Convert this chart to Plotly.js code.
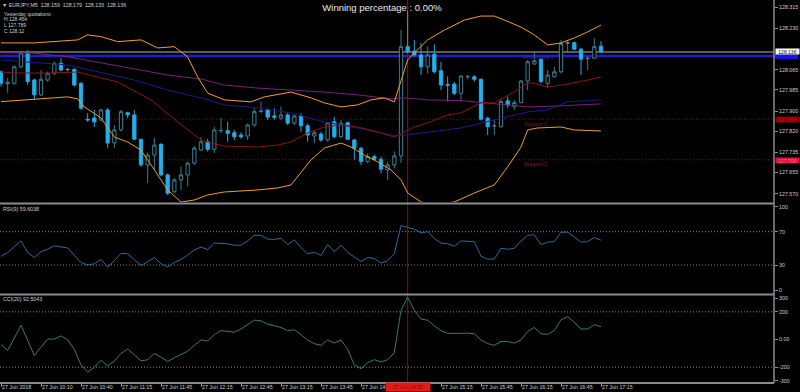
<!DOCTYPE html>
<html><head><meta charset="utf-8">
<script src="https://cdn.plot.ly/plotly-3.0.1.min.js"></script>
<style>html,body{margin:0;padding:0;background:#000;}#chart{width:800px;height:392px;}</style>
</head><body><div id="chart"></div>
<script>
// ---------------- data ----------------
const symbol = "EURJPY,M5";
const lastQuote = ["128.159", "128.179", "128.133", "128.136"];
const yesterday = {H: "128.454", L: "127.789", C: "128.12"};

const open = [128.057,128.009,128.011,128.077,128.131,128.024,127.965,128.024,128.051,128.091,
128.067,128.067,128.011,127.868,127.873,127.865,127.905,127.773,127.825,127.894,
127.885,127.788,127.686,127.725,127.768,127.646,127.579,127.626,127.646,127.693,
127.745,127.778,127.748,127.822,127.822,127.814,127.805,127.801,127.845,127.898,
127.905,127.881,127.872,127.885,127.852,127.881,127.842,127.801,127.809,127.785,
127.858,127.798,127.854,127.785,127.752,127.699,127.719,127.708,127.666,127.686,
127.722,128.157,128.140,128.124,128.077,128.127,128.061,128.006,128.008,127.971,
128.037,128.037,128.027,127.872,127.841,127.838,127.941,127.918,127.934,128.020,
128.088,128.107,128.011,128.037,128.057,128.170,128.173,128.147,128.109,128.111,
128.159];
const high = [128.062,128.032,128.083,128.140,128.143,128.030,128.064,128.058,128.097,128.111,
128.071,128.070,128.015,127.892,127.905,127.910,127.912,127.845,127.905,127.898,
127.905,127.790,127.735,127.793,127.772,127.652,127.633,127.679,127.699,127.760,
127.797,127.790,127.838,127.873,127.858,127.825,127.816,127.851,127.911,127.938,
127.911,127.911,127.918,127.892,127.885,127.892,127.851,127.825,127.818,127.858,
127.878,127.865,127.858,127.790,127.758,127.732,127.725,127.719,127.699,127.740,
128.223,128.300,128.184,128.172,128.157,128.167,128.097,128.038,128.017,128.044,
128.044,128.044,128.030,127.878,127.865,127.945,127.958,127.945,128.024,128.104,
128.137,128.111,128.064,128.077,128.184,128.184,128.177,128.152,128.117,128.192,
128.179];
const low = [127.998,127.973,128.005,128.070,128.005,127.945,127.960,128.017,128.044,128.058,
128.058,127.998,127.905,127.858,127.837,127.858,127.753,127.753,127.819,127.872,
127.785,127.678,127.614,127.666,127.640,127.566,127.573,127.586,127.600,127.686,
127.740,127.740,127.733,127.813,127.778,127.785,127.790,127.785,127.838,127.893,
127.865,127.865,127.865,127.845,127.845,127.818,127.778,127.772,127.778,127.778,
127.792,127.792,127.785,127.706,127.685,127.692,127.705,127.652,127.626,127.672,
127.694,128.130,128.117,128.044,128.050,128.050,127.984,127.938,127.964,127.938,
128.027,128.017,127.863,127.805,127.805,127.835,127.912,127.905,127.931,127.984,
128.084,128.011,127.993,128.034,128.050,128.132,128.144,128.044,128.064,128.108,
128.133];
const close = [128.011,128.015,128.077,128.131,128.018,127.965,128.027,128.051,128.091,128.064,
128.066,128.004,127.912,127.865,127.857,127.905,127.773,127.825,127.898,127.885,
127.788,127.686,127.725,127.765,127.646,127.573,127.626,127.646,127.693,127.753,
127.778,127.748,127.825,127.823,127.812,127.798,127.798,127.845,127.898,127.901,
127.876,127.876,127.885,127.852,127.881,127.842,127.805,127.814,127.785,127.854,
127.798,127.852,127.788,127.752,127.699,127.719,127.708,127.669,127.686,127.722,
128.157,128.137,128.124,128.077,128.124,128.057,128.004,128.003,127.971,128.040,
128.038,128.027,127.868,127.838,127.842,127.938,127.925,127.934,128.020,128.097,
128.101,128.018,128.044,128.057,128.170,128.173,128.147,128.107,128.111,128.157,
128.136];
const bars = open.map((v, i) => i);

const bbUpperX = [0,5,11.5,13,15,17.5,21,23.5,26,28,29.5,31,33.5,37.5,39.5,43.5,46.5,48.5,51,53.5,55.5,57.5,59,60,61,62,64,66.5,69.5,72,74,75.5,78,80,82,84,86,88,90];
const bbUpper = [128.172,128.172,128.184,128.204,128.197,128.177,128.184,128.152,128.157,128.116,128.036,127.972,127.945,127.937,127.957,127.976,127.953,127.933,127.917,127.925,127.945,127.953,127.937,128.024,128.104,128.132,128.184,128.223,128.263,128.279,128.279,128.263,128.235,128.204,128.164,128.172,128.192,128.216,128.243];
const bbLowerX = [0,5,10,11.5,12.5,15,17,19,21,23,25,27,29,31,33.5,38.5,41.5,43.5,45,46.5,48.5,51,52.5,54.5,56.5,58.5,60,61,63,65,68,71,74,76,78,79,80.5,84,86,90];
const bbLower = [127.938,127.949,127.957,127.949,127.917,127.873,127.797,127.777,127.745,127.666,127.586,127.538,127.546,127.566,127.578,127.586,127.594,127.606,127.654,127.706,127.753,127.773,127.757,127.725,127.698,127.666,127.626,127.574,127.538,127.530,127.538,127.574,127.606,127.678,127.757,127.825,127.833,127.837,127.825,127.821];
const bbMidX = [0,3,7.5,11.5,17.5,22.5,26.5,30,31.5,33.5,38.5,41.5,43.5,46,48.5,51,53.5,56.5,59,60.5,62,64,67,69,72,74,77,79,80,82,85,88,90];
const bbMid = [128.056,128.052,128.052,128.056,128.016,127.945,127.857,127.785,127.773,127.761,127.757,127.765,127.777,127.813,127.837,127.845,127.837,127.817,127.797,127.817,127.837,127.853,127.885,127.893,127.933,127.933,127.977,128.012,128.012,127.996,128.008,128.024,128.036];
const maPurpleX = [0,5,10,15,20,25,30,33.5,38.5,43.5,48.5,53.5,58.5,60.5,64,69,72,75,79,84,90];
const maPurple = [128.133,128.131,128.117,128.092,128.068,128.044,128.028,128.004,127.992,127.984,127.976,127.965,127.949,127.953,127.945,127.942,127.934,127.925,127.917,127.921,127.929];
const maBlueX = [0,10,20,25,30,33.5,38.5,43.5,48.5,53.5,58.5,59.5,69,72,79,82,85,90];
const maBlue = [128.104,128.084,128.024,127.984,127.953,127.925,127.913,127.893,127.857,127.833,127.805,127.801,127.833,127.853,127.897,127.905,127.937,127.945];

const rsi = [40.4,45,52,58.9,45,39,46,49,53,51.5, 50.5,41.5,33,30,31.5,36.7,27.5,35,44,43.4,
 36,29.3,34,38.9,31.5,27.8,33,36.7,42,48, 51.5,48.5,56.3,56,55.5,53.7,53.7,58.9,65.6,65.6,
 61.1,60.7,61.9,54.5,60,50.8,43.4,45.2,41.5,54.5, 45.9,53.7,45.2,39.6,34.1,38.9,37.8,32.3,35.2,43.4,
 77.4,75,73,68.5,70,61.9,56.3,55.6,52.6,58.9, 58.5,58,40.4,37.1,37.1,50,48.9,50,58.9,65.6,
 66.3,54.5,57.4,58.1,69.3,69.3,63.7,57.4,58.1,63, 59.6];
const cci = [-37,-78,10,103,-5,-116,-55,3,3,26, -3,-71,-184,-236,-200,-150,-191,-155,-101,-69,
 -110,-155,-146,-101,-128,-159,-132,-110,-85,-42, -3,-10,35,64,60,53,76,110,140,135,
 110,100,87,64,71,35,-5,-30,-42,-3, -26,-3,-71,-184,-211,-168,-146,-162,-146,-94,
 211,306,211,148,139,98,64,45,42,44, 46,42,-3,-30,-42,-15,-15,-26,-3,58,
 87,42,37,64,143,166,125,76,76,107, 92.5];

const bidLevel = 128.136, resistLevel = 128.12, support1 = 127.868, support2 = 127.706;
const markerBar = 61, markerLabel = "27 Jun 14:50";

const priceTicks = ["128.315","128.230","128.065","127.985","127.900","127.820","127.735","127.655","127.570"];
const rsiTicks = ["100","70","30","0"];
const cciTicks = ["300","200","0.00","-200","-300"];
const timeIdx = [0,6,12,18,24,30,36,42,48,54,66,72,78,84,90];
const timeLabels = ["27 Jun 2018","27 Jun 10:10","27 Jun 10:40","27 Jun 11:15","27 Jun 11:45","27 Jun 12:15","27 Jun 12:45","27 Jun 13:15","27 Jun 13:45","27 Jun 14:15","27 Jun 15:15","27 Jun 15:45","27 Jun 16:15","27 Jun 16:45","27 Jun 17:15"];

// ---------------- drawing ----------------
const H = 383, W = 774;
const pyp = y => 1 - y / H;   // pixel row -> paper
const FONT = 'Liberation Sans, Arial, sans-serif';
const txt = '#cfcfcf';

const line = (x, y, color, yaxis, w) => ({type:'scatter', mode:'lines', x, y, yaxis, hoverinfo:'skip',
  line:{color, width:w||1}});

const traces = [
  {type:'candlestick', x:bars, open, high, low, close, xaxis:'x', yaxis:'y', hoverinfo:'skip',
   whiskerwidth:0,
   increasing:{line:{color:'#3b7e92', width:1}, fillcolor:'#000000'},
   decreasing:{line:{color:'#2aa6dc', width:1}, fillcolor:'#1ab4f2'}},
  line(maPurpleX, maPurple, '#7c1f7c', 'y'),
  line(maBlueX, maBlue, '#1c1c86', 'y'),
  line(bbMidX, bbMid, '#8a1616', 'y'),
  line(bbUpperX, bbUpper, '#f0a028', 'y'),
  line(bbLowerX, bbLower, '#f0a028', 'y'),
  line(bars, rsi, '#36689c', 'y2'),
  line(bars, cci, '#3f7878', 'y3')
];

const shapes = [];
const hline = (yref, y, color, width, dash) => shapes.push({type:'line', xref:'paper', x0:0, x1:1, yref, y0:y, y1:y, layer:'below', line:{color, width, dash:dash||'solid'}});
hline('y', bidLevel, '#7a7a7a', 1.5);
hline('y', resistLevel, '#1e1ec8', 2.5);
hline('y', support1, '#7a0a0a', 1, '1px,2px');
hline('y', support2, '#6e2020', 1, '1px,2px');
hline('y2', 70, '#8a8a8a', 1, '1px,2px');
hline('y2', 30, '#8a8a8a', 1, '1px,2px');
hline('y3', 200, '#8a8a8a', 1, '1px,2px');
hline('y3', -200, '#8a8a8a', 1, '1px,2px');
shapes.push({type:'line', xref:'x', x0:markerBar, x1:markerBar, yref:'paper', y0:0, y1:1, layer:'below', line:{color:'#b00000', width:1}});
// panel frames
[203.5, 294.5, 383].forEach(y => shapes.push({type:'line', xref:'paper', x0:0, x1:1, yref:'paper', y0:pyp(y), y1:pyp(y), line:{color:'#8c8c8c', width:2}}));
shapes.push({type:'line', xref:'paper', x0:1, x1:1, yref:'paper', y0:0, y1:1, line:{color:'#8c8c8c', width:1.5}});
// blue resistance price tag on the axis (its text is not legible in the reference)
shapes.push({type:'rect', xref:'paper', x0:775 / W, x1:798 / W, yref:'paper', y0:pyp(59), y1:pyp(54.3), fillcolor:'#1414e6', line:{width:0}});

const ann = [];
const note = (text, xpx, ypx, color, size) => ann.push({xref:'paper', yref:'paper', x:xpx / W, y:pyp(ypx), xanchor:'left', yanchor:'middle', text, showarrow:false, borderpad:0, font:{family:FONT, size:size||5.3, color:color||txt}});
note('\u25BC ' + symbol + '  ' + lastQuote.join('  '), 1, 4.5);
note('Yesterday quotations:', 3, 13.5, txt, 5);
note('H ' + yesterday.H, 3, 19.2, txt, 5);
note('L ' + yesterday.L, 3, 24.9, txt, 5);
note('C ' + yesterday.C, 3, 30.6, txt, 5);
note('RSI(9) 59.6038', 2, 209);
note('CCI(20) 92.5043', 2, 298.5);
note('Resistance 1', 522, 57, '#2a2ab0');
note('Support 1', 523, 123.5, '#8a1414');
note('Support 2', 523, 163.5, '#a01830');

timeIdx.forEach((b, k) => ann.push({xref:'x', x:b, yref:'paper', y:pyp(387.5), xanchor:'left', yanchor:'middle', xshift:-1, text:timeLabels[k], showarrow:false, font:{family:FONT, size:5.3, color:txt}}));
ann.push({xref:'x', x:markerBar, yref:'paper', y:pyp(387.5), xanchor:'center', yanchor:'middle', text:markerLabel, showarrow:false, bgcolor:'#e31a1a', width:44, height:8, borderpad:0, font:{family:FONT, size:5.3, color:'#9a0000'}});

const box = (ypx, text, bg, fg) => ann.push({xref:'paper', x:1, xanchor:'left', xshift:1, yref:'paper', y:pyp(ypx), yanchor:'middle', text, showarrow:false, bgcolor:bg, width:23, height:5, borderpad:0, font:{family:FONT, size:5, color:fg}});
box(51.2, lastQuote[3], '#ffffff', '#000000');
box(119.5, '127.868', '#8c0000', '#c01010');
box(160.5, '127.706', '#dc143c', '#ff6c88');

const yax = (domain, range, vals, text) => ({domain, range, side:'right', anchor:'x', showgrid:false, zeroline:false, showline:false, fixedrange:true,
  tickmode:'array', tickvals:vals, ticktext:text, ticks:'outside', ticklen:3, tickcolor:'#8c8c8c', tickfont:{family:FONT, size:5.3, color:txt}});

const layout = {
  width:800, height:392, margin:{l:0, r:26, t:0, b:9, pad:0},
  paper_bgcolor:'#000', plot_bgcolor:'#000', showlegend:false,
  font:{family:FONT, size:5.3, color:txt},
  title:{text:'Winning percentage : 0.00%', x:382/800, xanchor:'center', y:1 - 8/392, yanchor:'middle', font:{family:FONT, size:9.5, color:'#ececec'}},
  xaxis:{domain:[0,1], range:[-0.15,115.95], anchor:'y3', showgrid:false, zeroline:false, showticklabels:false, showline:false,
    ticks:'outside', ticklen:3, tickcolor:'#8c8c8c', tickmode:'array', tickvals:timeIdx, rangeslider:{visible:false}, fixedrange:true},
  yaxis: yax([pyp(202), 1], [127.538, 128.343], priceTicks.map(Number), priceTicks),
  yaxis2: yax([pyp(293), pyp(205)], [-3.6, 102], rsiTicks.map(Number), rsiTicks),
  yaxis3: yax([0, pyp(296)], [-314.5, 314.5], cciTicks.map(Number), cciTicks),
  shapes, annotations: ann
};

Plotly.newPlot('chart', traces, layout, {displayModeBar:false, staticPlot:true});
</script></body></html>
